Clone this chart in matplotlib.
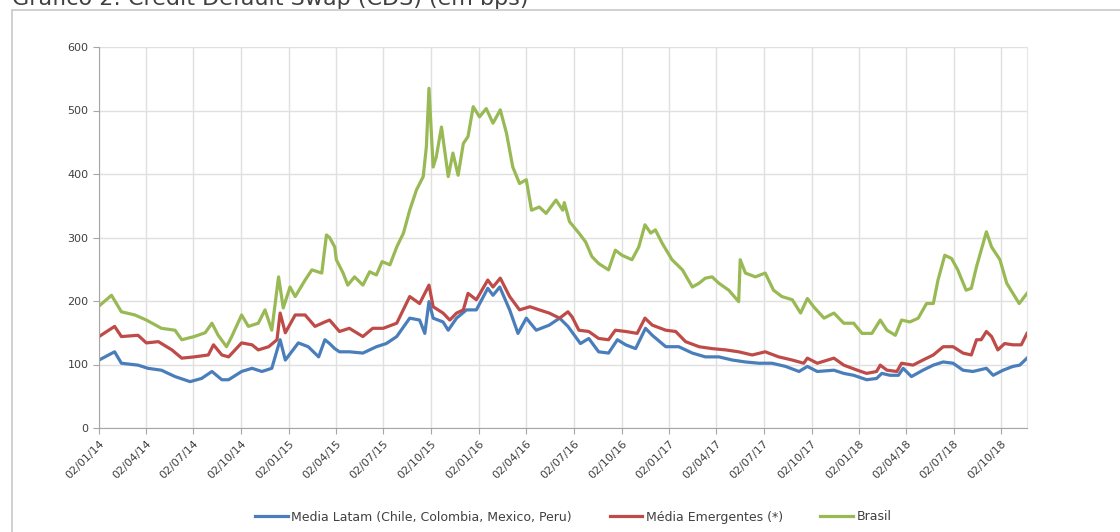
import matplotlib
matplotlib.use("Agg")
import matplotlib.pyplot as plt
import matplotlib.dates as mdates
from matplotlib.patches import Rectangle
import pandas as pd

# Brasil
dates_brasil = [
    "2014-01-02", "2014-01-26", "2014-02-14", "2014-03-12", "2014-04-03", "2014-05-02",
    "2014-05-28", "2014-06-10", "2014-07-04", "2014-07-25", "2014-08-07", "2014-08-19",
    "2014-09-04", "2014-09-14", "2014-10-03", "2014-10-16", "2014-11-04", "2014-11-17",
    "2014-11-30", "2014-12-13", "2014-12-22", "2015-01-04", "2015-01-14", "2015-02-02",
    "2015-02-15", "2015-03-06", "2015-03-15", "2015-03-21", "2015-03-31", "2015-04-03",
    "2015-04-16", "2015-04-25", "2015-05-08", "2015-05-24", "2015-06-06", "2015-06-19",
    "2015-06-30", "2015-07-15", "2015-07-28", "2015-08-10", "2015-08-22", "2015-09-04",
    "2015-09-17", "2015-09-23", "2015-09-28", "2015-10-06", "2015-10-12", "2015-10-22",
    "2015-11-04", "2015-11-13", "2015-11-23", "2015-12-03", "2015-12-12", "2015-12-22",
    "2016-01-03", "2016-01-16", "2016-01-29", "2016-02-12", "2016-02-24", "2016-03-07",
    "2016-03-20", "2016-04-02", "2016-04-12", "2016-04-27", "2016-05-10", "2016-05-29",
    "2016-06-11", "2016-06-14", "2016-06-24", "2016-07-12", "2016-07-25", "2016-08-06",
    "2016-08-19", "2016-09-07", "2016-09-20", "2016-10-03", "2016-10-22", "2016-11-04",
    "2016-11-16", "2016-11-27", "2016-12-06", "2016-12-19", "2017-01-07", "2017-01-27",
    "2017-02-15", "2017-02-28", "2017-03-12", "2017-03-25", "2017-04-07", "2017-04-26",
    "2017-05-15", "2017-05-18", "2017-05-28", "2017-06-16", "2017-07-05", "2017-07-21",
    "2017-08-06", "2017-08-26", "2017-09-11", "2017-09-24", "2017-10-06", "2017-10-26",
    "2017-11-14", "2017-12-03", "2017-12-22", "2018-01-07", "2018-01-26", "2018-02-11",
    "2018-02-24", "2018-03-12", "2018-03-24", "2018-04-09", "2018-04-25", "2018-05-11",
    "2018-05-24", "2018-06-02", "2018-06-15", "2018-06-28", "2018-07-10", "2018-07-26",
    "2018-08-05", "2018-08-15", "2018-08-24", "2018-09-03", "2018-09-13", "2018-09-29",
    "2018-10-12", "2018-10-24", "2018-11-05", "2018-11-20",
]
brasil = [
    192, 209, 183, 178, 170, 157,
    154, 139, 144, 150, 165, 146,
    128, 144, 178, 160, 165, 186,
    154, 238, 189, 222, 207, 233,
    249, 244, 304, 300, 285, 265,
    244, 225, 238, 225, 246, 241,
    262, 257, 285, 307, 343, 375,
    396, 443, 535, 411, 427, 474,
    396, 433, 398, 448, 459, 506,
    490, 503, 480, 501, 464, 411,
    385, 391, 343, 348, 338, 359,
    343, 355, 325, 307, 293, 270,
    259, 249, 280, 272, 265, 285,
    320, 307, 312, 291, 265, 249,
    222, 228, 236, 238, 228, 217,
    199, 265, 244, 238, 244, 217,
    207, 202, 181, 204, 191, 173,
    181, 165, 165, 149, 149, 170,
    154, 146, 170, 167, 173, 196,
    196, 233, 272, 267, 249, 217,
    220, 254, 280, 309, 285, 265,
    228, 212, 196, 212,
]

# Média Emergentes
dates_emerg = [
    "2014-01-02", "2014-02-01", "2014-02-14", "2014-03-18", "2014-04-03", "2014-04-26",
    "2014-05-22", "2014-06-10", "2014-07-04", "2014-07-31", "2014-08-10", "2014-08-26",
    "2014-09-08", "2014-10-03", "2014-10-23", "2014-11-04", "2014-11-24", "2014-12-10",
    "2014-12-16", "2014-12-26", "2015-01-14", "2015-02-02", "2015-02-21", "2015-03-12",
    "2015-03-21", "2015-04-09", "2015-04-28", "2015-05-24", "2015-06-12", "2015-07-02",
    "2015-07-28", "2015-08-22", "2015-09-10", "2015-09-28", "2015-10-06", "2015-10-25",
    "2015-11-07", "2015-11-20", "2015-12-03", "2015-12-12", "2015-12-28", "2016-01-19",
    "2016-01-29", "2016-02-12", "2016-03-01", "2016-03-20", "2016-04-09", "2016-04-27",
    "2016-05-16", "2016-06-05", "2016-06-21", "2016-06-29", "2016-07-12", "2016-07-31",
    "2016-08-19", "2016-09-07", "2016-09-20", "2016-10-10", "2016-11-01", "2016-11-16",
    "2016-11-30", "2016-12-26", "2017-01-14", "2017-02-02", "2017-02-28", "2017-03-25",
    "2017-04-20", "2017-05-15", "2017-06-10", "2017-07-05", "2017-07-31", "2017-08-26",
    "2017-09-17", "2017-09-24", "2017-10-13", "2017-11-14", "2017-12-03", "2017-12-29",
    "2018-01-16", "2018-02-04", "2018-02-11", "2018-02-24", "2018-03-15", "2018-03-24",
    "2018-04-15", "2018-05-04", "2018-05-24", "2018-06-12", "2018-07-01", "2018-07-20",
    "2018-08-05", "2018-08-15", "2018-08-24", "2018-09-03", "2018-09-13", "2018-09-25",
    "2018-10-08", "2018-10-24", "2018-11-09", "2018-11-20",
]
emergentes = [
    144, 160, 144, 146, 134, 136,
    123, 110, 112, 115, 131, 115,
    112, 134, 131, 123, 128, 139,
    181, 150, 178, 178, 160, 167,
    170, 152, 157, 144, 157, 157,
    165, 207, 196, 225, 191, 181,
    170, 181, 186, 212, 202, 233,
    222, 236, 207, 186, 191, 186,
    181, 173, 183, 175, 154, 152,
    141, 139, 154, 152, 149, 173,
    162, 154, 152, 136, 128, 125,
    123, 120, 115, 120, 112, 107,
    102, 110, 102, 110, 99, 91,
    86, 89, 99, 91, 89, 102,
    99, 107, 115, 128, 128, 118,
    115, 139, 139, 152, 144, 123,
    133, 131, 131, 149,
]

# Media Latam
dates_latam = [
    "2014-01-02", "2014-02-01", "2014-02-14", "2014-03-18", "2014-04-06", "2014-05-02",
    "2014-05-28", "2014-06-26", "2014-07-18", "2014-08-07", "2014-08-26", "2014-09-08",
    "2014-10-03", "2014-10-23", "2014-11-11", "2014-11-30", "2014-12-16", "2014-12-26",
    "2015-01-20", "2015-02-08", "2015-02-28", "2015-03-12", "2015-03-21", "2015-03-31",
    "2015-04-09", "2015-04-28", "2015-05-24", "2015-06-19", "2015-07-08", "2015-07-28",
    "2015-08-22", "2015-09-10", "2015-09-20", "2015-09-28", "2015-10-06", "2015-10-25",
    "2015-11-04", "2015-11-20", "2015-12-09", "2015-12-28", "2016-01-19", "2016-01-29",
    "2016-02-11", "2016-03-01", "2016-03-17", "2016-04-02", "2016-04-21", "2016-05-16",
    "2016-06-05", "2016-06-21", "2016-07-15", "2016-07-31", "2016-08-19", "2016-09-07",
    "2016-09-24", "2016-10-10", "2016-10-29", "2016-11-17", "2016-11-30", "2016-12-26",
    "2017-01-20", "2017-02-15", "2017-03-12", "2017-04-07", "2017-05-03", "2017-05-28",
    "2017-06-23", "2017-07-18", "2017-08-13", "2017-09-08", "2017-09-24", "2017-10-13",
    "2017-11-14", "2017-12-03", "2017-12-22", "2018-01-16", "2018-02-04", "2018-02-14",
    "2018-03-02", "2018-03-18", "2018-03-27", "2018-04-12", "2018-05-04", "2018-05-24",
    "2018-06-12", "2018-07-01", "2018-07-20", "2018-08-08", "2018-09-03", "2018-09-16",
    "2018-10-05", "2018-10-24", "2018-11-06", "2018-11-20",
]
latam = [
    107, 120, 102, 99, 94, 91,
    81, 73, 78, 89, 76, 76,
    89, 94, 89, 94, 139, 107,
    134, 128, 112, 139, 133, 125,
    120, 120, 118, 128, 133, 144,
    173, 170, 149, 199, 173, 167,
    154, 173, 186, 186, 220, 209,
    222, 186, 149, 173, 154, 162,
    173, 160, 133, 141, 120, 118,
    139, 131, 125, 157, 146, 128,
    128, 118, 112, 112, 107, 104,
    102, 102, 97, 89, 97, 89,
    91, 86, 83, 76, 78, 86,
    83, 83, 94, 81, 91, 99,
    104, 102, 91, 89, 94, 83,
    91, 97, 99, 110,
]

y_ticks = [0, 100, 200, 300, 400, 500, 600]

fig = plt.figure(figsize=(11.2, 5.32), dpi=100)
ax = fig.add_axes([99 / 1120, 1 - 428 / 532, 928 / 1120, 381 / 532])

ax.plot(pd.to_datetime(dates_latam), latam, color="#4a7ebb", lw=2.3,
        label="Media Latam (Chile, Colombia, Mexico, Peru)")
ax.plot(pd.to_datetime(dates_emerg), emergentes, color="#be4b48", lw=2.3,
        label="Média Emergentes (*)")
ax.plot(pd.to_datetime(dates_brasil), brasil, color="#98b954", lw=2.3,
        label="Brasil")

ax.set_xlim(pd.Timestamp("2014-01-02"), pd.Timestamp("2018-11-20"))
ax.set_ylim(0, 600)
ax.set_yticks(y_ticks)

ax.xaxis.set_major_locator(mdates.MonthLocator(bymonth=[1, 4, 7, 10], bymonthday=2))
ax.xaxis.set_major_formatter(mdates.DateFormatter("%d/%m/%y"))

ax.grid(True, color="#e0e0e0", lw=1.0)
ax.set_axisbelow(True)
ax.spines["top"].set_visible(False)
ax.spines["right"].set_color("#e6e6e6")
ax.spines["left"].set_color("#a6a6a6")
ax.spines["bottom"].set_color("#a6a6a6")
ax.tick_params(axis="both", colors="#a6a6a6", labelcolor="#404040", labelsize=8, length=4)
for lab in ax.get_xticklabels():
    lab.set_rotation(45)
    lab.set_ha("right")
    lab.set_rotation_mode("anchor")

fig.legend(loc="center", bbox_to_anchor=(0.512, 1 - 517 / 532), ncol=3, frameon=False,
           fontsize=9, handlelength=2.6, handletextpad=0.3, columnspacing=3.0,
           labelcolor="#404040")

# moldura do gráfico
fig.patches.append(Rectangle((12 / 1120, -0.1), 1.2, 1.1 - 10 / 532, transform=fig.transFigure,
                             fill=False, edgecolor="#c8c8c8", lw=1.2))
fig.text(12 / 1120, 1 - 5 / 532, "Gráfico 2: Credit Default Swap (CDS) (em bps)",
         fontsize=16, color="#404040", va="baseline", ha="left")

fig.savefig("out.png", dpi=100)
